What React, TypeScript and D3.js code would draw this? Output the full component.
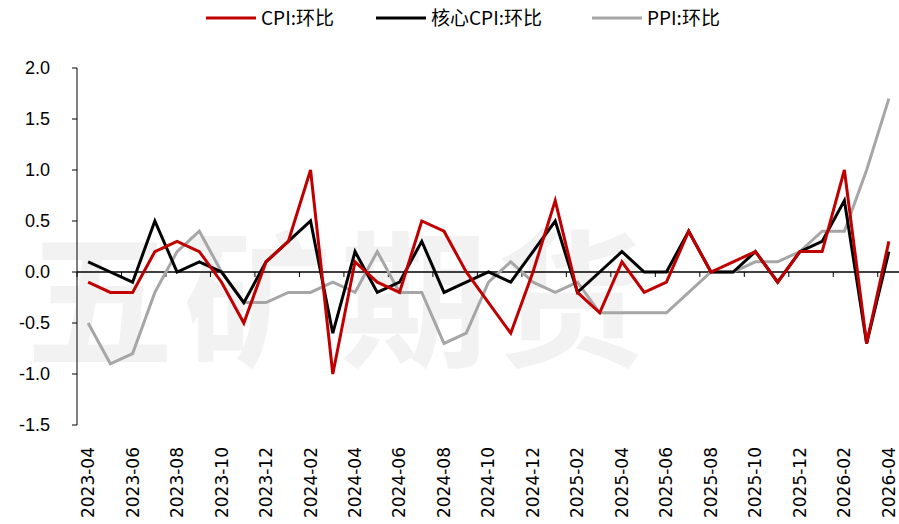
import React, { useEffect, useRef } from 'react';
import * as d3 from 'd3';

const months = [
  '2023-04', '2023-05', '2023-06', '2023-07', '2023-08', '2023-09', '2023-10', '2023-11', '2023-12',
  '2024-01', '2024-02', '2024-03', '2024-04', '2024-05', '2024-06', '2024-07', '2024-08', '2024-09',
  '2024-10', '2024-11', '2024-12', '2025-01', '2025-02', '2025-03', '2025-04', '2025-05', '2025-06',
  '2025-07', '2025-08', '2025-09', '2025-10', '2025-11', '2025-12', '2026-01', '2026-02', '2026-03',
  '2026-04',
];

const cpi = [
  -0.1, -0.2, -0.2, 0.2, 0.3, 0.2, -0.1, -0.5, 0.1,
  0.3, 1.0, -1.0, 0.1, -0.1, -0.2, 0.5, 0.4, 0.0,
  -0.3, -0.6, 0.0, 0.7, -0.2, -0.4, 0.1, -0.2, -0.1,
  0.4, 0.0, 0.1, 0.2, -0.1, 0.2, 0.2, 1.0, -0.7,
  0.3,
];

const coreCpi = [
  0.1, 0.0, -0.1, 0.5, 0.0, 0.1, 0.0, -0.3, 0.1,
  0.3, 0.5, -0.6, 0.2, -0.2, -0.1, 0.3, -0.2, -0.1,
  0.0, -0.1, 0.2, 0.5, -0.2, 0.0, 0.2, 0.0, 0.0,
  0.4, 0.0, 0.0, 0.2, -0.1, 0.2, 0.3, 0.7, -0.7,
  0.2,
];

const ppi = [
  -0.5, -0.9, -0.8, -0.2, 0.2, 0.4, 0.0, -0.3, -0.3,
  -0.2, -0.2, -0.1, -0.2, 0.2, -0.2, -0.2, -0.7, -0.6,
  -0.1, 0.1, -0.1, -0.2, -0.1, -0.4, -0.4, -0.4, -0.4,
  -0.2, 0.0, 0.0, 0.1, 0.1, 0.2, 0.4, 0.4, 1.0,
  1.7,
];

const yTicks = [-1.5, -1.0, -0.5, 0.0, 0.5, 1.0, 1.5, 2.0];

const series = [
  { name: 'PPI:环比', values: ppi, color: '#A6A6A6' },
  { name: '核心CPI:环比', values: coreCpi, color: '#000000' },
  { name: 'CPI:环比', values: cpi, color: '#C00000' },
];
const legendOrder = ['CPI:环比', '核心CPI:环比', 'PPI:环比'];

const W = 899;
const H = 524;
const cjk = '"Noto Sans CJK SC", sans-serif';

export default function App() {
  const svgRef = useRef<SVGSVGElement>(null);

  useEffect(() => {
    if (!svgRef.current) return;
    const svg = d3.select(svgRef.current);
    svg.selectAll('*').remove();

    const left = 77, right = 900, top = 68, bottom = 425;
    const x = d3.scaleBand<string>().domain(months).range([left, right]).padding(0);
    const y = d3.scaleLinear().domain([-1.5, 2]).range([bottom, top]);
    const cx = (m: string) => (x(m) as number) + x.bandwidth() / 2;

    svg.append('rect').attr('width', W).attr('height', H).attr('fill', '#fff');

    // watermark
    const wm = ['五', '矿', '期', '货'];
    wm.forEach((c, i) => {
      svg.append('text')
        .attr('x', 100 + i * 157)
        .attr('y', 355)
        .attr('text-anchor', 'middle')
        .attr('font-family', cjk)
        .attr('font-weight', 700)
        .attr('font-size', 148)
        .attr('fill', '#f2f2f2')
        .text(c);
    });

    // y axis
    svg.append('line')
      .attr('x1', left).attr('x2', left).attr('y1', top).attr('y2', bottom)
      .attr('stroke', '#000').attr('stroke-width', 1);
    yTicks.forEach(t => {
      svg.append('line')
        .attr('x1', left - 5).attr('x2', left).attr('y1', y(t)).attr('y2', y(t))
        .attr('stroke', '#000');
      svg.append('text')
        .attr('x', 50).attr('y', y(t)).attr('dy', '0.35em')
        .attr('text-anchor', 'end')
        .attr('font-family', '"Liberation Sans", sans-serif')
        .attr('font-size', 18)
        .attr('fill', '#000')
        .text(t.toFixed(1));
    });

    // zero axis with ticks at band edges
    svg.append('line')
      .attr('x1', left).attr('x2', right).attr('y1', y(0)).attr('y2', y(0))
      .attr('stroke', '#000').attr('stroke-width', 1.5);
    months.forEach((m, i) => {
      if (i % 2 !== 0) return;
      const bx = x(m) as number;
      svg.append('line')
        .attr('x1', bx).attr('x2', bx).attr('y1', y(0)).attr('y2', y(0) + 5)
        .attr('stroke', '#000');
      svg.append('text')
        .attr('transform', `translate(${cx(m)},447) rotate(-90)`)
        .attr('text-anchor', 'end')
        .attr('dy', '0.35em')
        .attr('font-family', '"DejaVu Sans", sans-serif')
        .attr('font-size', 17)
        .attr('fill', '#000')
        .text(m);
    });

    // lines
    const line = d3.line<number>()
      .x((_, i) => cx(months[i]))
      .y(d => y(d));
    series.forEach(s => {
      svg.append('path')
        .datum(s.values)
        .attr('fill', 'none')
        .attr('stroke', s.color)
        .attr('stroke-width', 3)
        .attr('stroke-linejoin', 'miter')
        .attr('d', line);
    });

    // legend
    const legendX = [206, 376, 592];
    legendOrder.forEach((name, i) => {
      const s = series.find(d => d.name === name)!;
      const lx = legendX[i];
      svg.append('line')
        .attr('x1', lx).attr('x2', lx + 50).attr('y1', 18).attr('y2', 18)
        .attr('stroke', s.color).attr('stroke-width', 3);
      svg.append('text')
        .attr('x', lx + 55).attr('y', 18).attr('dy', '0.35em')
        .attr('font-family', cjk)
        .attr('font-size', 19)
        .attr('fill', '#000')
        .text(name);
    });
  }, []);

  return (
    <svg ref={svgRef} width={W} height={H}
      style={{ position: 'absolute', left: 0, top: 0, display: 'block' }} />
  );
}
